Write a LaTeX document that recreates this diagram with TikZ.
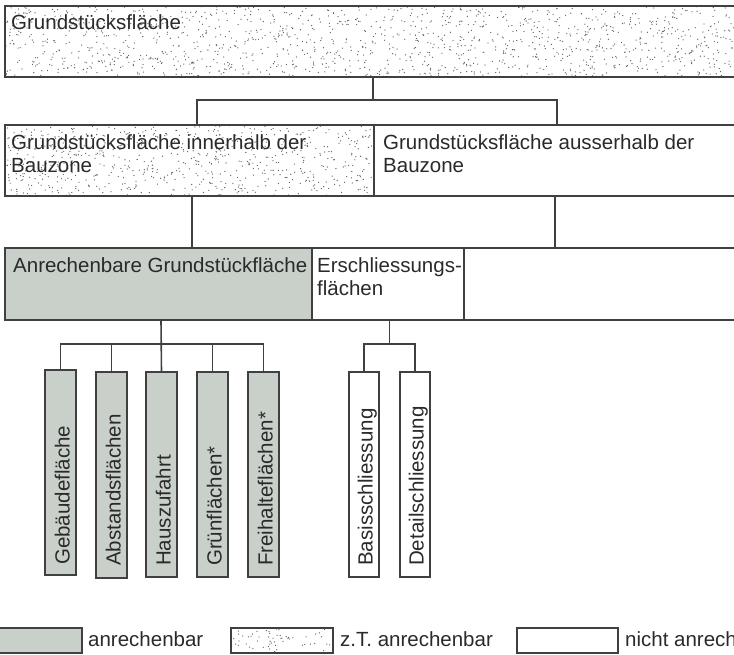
\documentclass[tikz,border=0pt]{standalone}
\usepackage{fontspec}
\setmainfont{Liberation Sans}
\definecolor{linec}{HTML}{404040}
\definecolor{fillg}{HTML}{C9D0CA}
\definecolor{txtc}{HTML}{2A2A2A}
\definecolor{dotc}{HTML}{5E5E5E}
\tikzset{
  box/.style={draw=linec, line width=1.6pt, inner sep=0pt, outer sep=0pt, anchor=north west},
  graybox/.style={box, fill=fillg},
  conn/.style={draw=linec, line width=1.6pt},
  lbl/.style={text=txtc, font=\fontsize{20.5}{23}\selectfont, inner sep=0pt, anchor=base west},
  vlbl/.style={lbl, rotate=90},
  bar/.style={box, minimum width=31pt, minimum height=205pt},
}
\newcommand\stipplebox[5]{%
  \begin{scope}
    \clip (#1,#2) rectangle ++(#3,#4);
    \foreach \k in {1,...,#5} {\fill[dotc] ({#1+#3*rnd},{#2+#4*rnd}) circle (0.65);}
  \end{scope}}
\begin{document}
\begin{tikzpicture}[x=1pt,y=-1pt]
\useasboundingbox (0,0) rectangle (734,654);
\clip (0,0) rectangle (734,654);
\pgfmathsetseed{4711}
% stippling
\stipplebox{5}{6}{735}{71}{1400}
\stipplebox{5}{125}{369}{71}{700}
\stipplebox{231}{628}{102}{25}{60}
% row 1
\node[box, minimum width=740pt, minimum height=71pt] (T) at (5,6) {};
\node[lbl] (tT) at (11,29) {Grundstücksfläche};
% row 2
\node[box, minimum width=369pt, minimum height=71pt] (A) at (5,125) {};
\node[box, minimum width=370pt, minimum height=71pt] (B) at (374,125) {};
\node[lbl] (tA1) at (11,149) {Grundstücksfläche innerhalb der};
\node[lbl] (tA2) at (11,172) {Bauzone};
\node[lbl] (tB1) at (383,149) {Grundstücksfläche ausserhalb der};
\node[lbl] (tB2) at (383,172) {Bauzone};
% row 3
\node[graybox, minimum width=307pt, minimum height=72pt] (G) at (5,248) {};
\node[box, minimum width=152pt, minimum height=72pt] (E) at (312,248) {};
\node[box, minimum width=280pt, minimum height=72pt] (W) at (464,248) {};
\node[lbl] (tG) at (13,272) {Anrechenbare Grundstückfläche};
\node[lbl] (tE1) at (317,272) {Erschliessungs-};
\node[lbl] (tE2) at (317,295) {flächen};
% bars
\node[bar, fill=fillg] (b1) at (45,370) {};
\node[bar, fill=fillg, minimum height=206pt] (b2) at (96,372) {};
\node[bar, fill=fillg] (b3) at (146,372) {};
\node[bar, fill=fillg] (b4) at (197,372) {};
\node[bar, fill=fillg] (b5) at (248,372) {};
\node[bar, minimum width=30pt] (e1) at (349,372) {};
\node[bar, minimum width=30pt] (e2) at (400,372) {};
\node[vlbl] (tb1) at (69.5,565) {Gebäudefläche};
\node[vlbl] (tb2) at (120.5,566) {Abstandsflächen};
\node[vlbl] (tb3) at (170.5,566) {Hauszufahrt};
\node[vlbl] (tb4) at (221.5,566) {Grünflächen*};
\node[vlbl] (tb5) at (272.5,566) {Freihalteflächen*};
\node[vlbl] (te1) at (372.5,566) {Basisschliessung};
\node[vlbl] (te2) at (423.5,566) {Detailschliessung};
% connectors
\coordinate (j1) at (373,100);
\coordinate (j2) at (197,100);
\coordinate (j3) at (557,100);
\draw[conn] (T.south -| j1) -- (j1);
\draw[conn] (A.north -| j2) -- (j2) -- (j3) -- (B.north -| j3);
\coordinate (k1) at (192,220);
\coordinate (k2) at (555,220);
\draw[conn] (A.south -| k1) -- (G.north -| k1);
\draw[conn] (B.south -| k2) -- (W.north -| k2);
\coordinate (g1) at (161,344);
\draw[conn] (G.south -| g1) -- (b3.north);
\draw[conn] (b1.north) -- (b1.north |- g1) -- (b5.north |- g1) -- (b5.north);
\draw[conn] (b2.north) -- (b2.north |- g1);
\draw[conn] (b4.north) -- (b4.north |- g1);
\coordinate (g2) at (389.5,344);
\draw[conn] (E.south -| g2) -- (g2);
\draw[conn] (e1.north) -- (e1.north |- g2) -- (e2.north |- g2) -- (e2.north);
% legend
\node[graybox, minimum width=87pt, minimum height=25pt] (LG) at (-5,628) {};
\node[box, minimum width=102pt, minimum height=25pt] (LD) at (231,628) {};
\node[box, minimum width=101pt, minimum height=25pt] (LW) at (517,628) {};
\node[lbl] (tLG) at (88,646) {anrechenbar};
\node[lbl] (tLD) at (340,646) {z.T. anrechenbar};
\node[lbl] (tLW) at (625,646) {nicht anrechenbar};
\end{tikzpicture}
\end{document}
